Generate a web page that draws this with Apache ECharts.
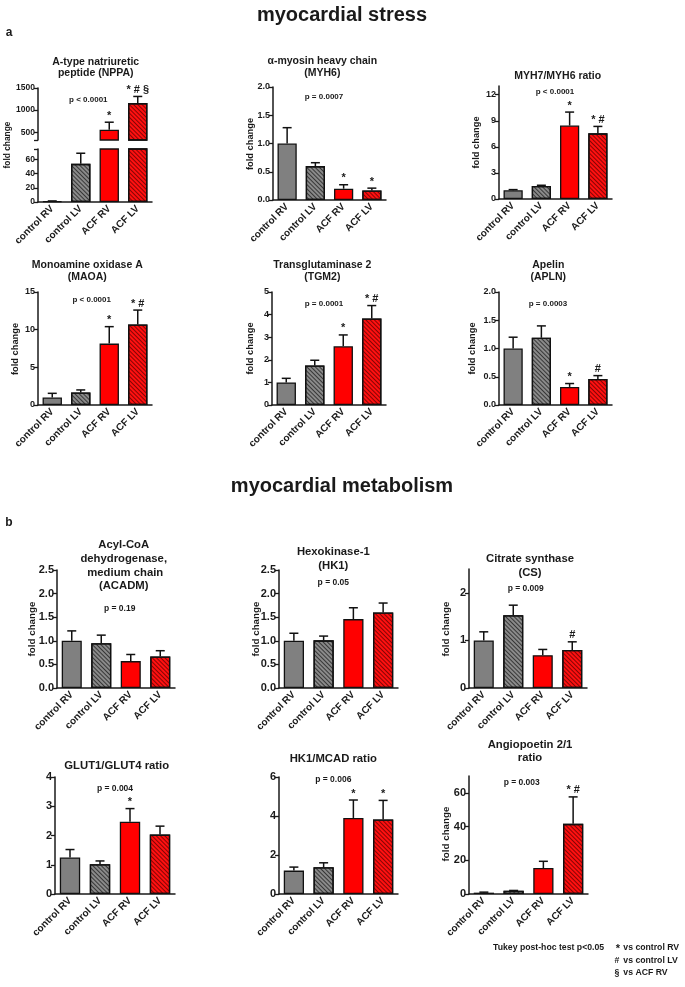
<!DOCTYPE html>
<html><head><meta charset="utf-8">
<script src="https://cdn.jsdelivr.net/npm/echarts@6/dist/echarts.min.js"></script>
<style>html,body{margin:0;padding:0;background:#fff}#c{width:685px;height:987px}</style>
</head><body><div id="c"></div>
<script>
// ---- data ----
const categories = ['control RV', 'control LV', 'ACF RV', 'ACF LV'];
const nppaMean = [1, 54, 559, 1159];        const nppaSem = [0.5, 15, 168, 150];   const nppaMarks = ['', '', '*', '* # §'];
const myh6Mean = [1.0, 0.6, 0.2, 0.17];     const myh6Sem = [0.28, 0.06, 0.07, 0.04]; const myh6Marks = ['', '', '*', '*'];
const myh76Mean = [1.0, 1.5, 8.45, 7.55];   const myh76Sem = [0.08, 0.08, 1.55, 0.8]; const myh76Marks = ['', '', '*', '* #'];
const maoaMean = [1.0, 1.67, 8.15, 10.7];   const maoaSem = [0.55, 0.33, 2.25, 1.9];  const maoaMarks = ['', '', '*', '* #'];
const tgm2Mean = [1.0, 1.75, 2.6, 3.83];    const tgm2Sem = [0.18, 0.23, 0.5, 0.57];  const tgm2Marks = ['', '', '*', '* #'];
const aplnMean = [1.0, 1.19, 0.32, 0.46];   const aplnSem = [0.2, 0.21, 0.06, 0.06];  const aplnMarks = ['', '', '*', '#'];
const acadmMean = [1.0, 0.95, 0.57, 0.67];  const acadmSem = [0.21, 0.17, 0.14, 0.12]; const acadmMarks = ['', '', '', ''];
const hk1Mean = [1.0, 1.01, 1.46, 1.6];     const hk1Sem = [0.16, 0.09, 0.24, 0.2];   const hk1Marks = ['', '', '', ''];
const csMean = [1.0, 1.53, 0.69, 0.8];      const csSem = [0.18, 0.21, 0.12, 0.17];   const csMarks = ['', '', '', '#'];
const glutMean = [1.25, 1.02, 2.47, 2.03];  const glutSem = [0.27, 0.11, 0.45, 0.29];  const glutMarks = ['', '', '*', ''];
const hkmcadMean = [1.2, 1.37, 3.9, 3.82];  const hkmcadSem = [0.18, 0.23, 0.92, 0.98]; const hkmcadMarks = ['', '', '*', '*'];
const angMean = [0.8, 1.9, 15.4, 41.6];     const angSem = [0.3, 0.2, 4.0, 16.0];     const angMarks = ['', '', '', '* #'];
const nppaUpperTicks = [500, 1000, 1500];
const nppaLowerTicks = [0, 20, 40, 60];
const myh76Ticks = [0, 3, 6, 9, 12];
const csTicks = [0, 1, 2];
const angTicks = [0, 20, 40, 60];

// ---- styling / layout ----
const FONT = "'Liberation Sans', Arial, sans-serif";
const TXT = '#1a1a1a';
const grayHatch = {symbol: 'rect', symbolSize: 1, color: 'rgba(20,20,20,0.7)', dashArrayX: [1, 0], dashArrayY: [1, 1.2], rotation: Math.PI / 4};
const redHatch = {symbol: 'rect', symbolSize: 1, color: 'rgba(80,0,0,0.7)', dashArrayX: [1, 0], dashArrayY: [1, 1.2], rotation: Math.PI / 4};
const barStyles = [
  {color: '#808080'},
  {color: '#8a8a8a', decal: grayHatch},
  {color: '#ff0000'},
  {color: '#ff1010', decal: redHatch}
];

const panels = [
  {mean: nppaMean, sem: nppaSem, marks: nppaMarks, rect: [38, 88, 114, 52], min: 325, max: 1500, labels: nppaUpperTicks, ticks: [325, 500, 1000, 1500], hideX: true, fs: 8.5, barKeep: v => v > 325, errKeep: (v, hi) => v > 325},
  {mean: nppaMean, sem: nppaSem, marks: nppaMarks, rect: [38, 149, 114, 53], min: 0, max: 75, labels: nppaLowerTicks, ticks: [0, 20, 40, 60, 75], fs: 8.5, errKeep: (v, hi) => hi < 75},
  {mean: myh6Mean, sem: myh6Sem, marks: myh6Marks, rect: [273, 87, 113, 113], min: 0, max: 2, interval: 0.5, fs: 9, fmt: v => v.toFixed(1)},
  {mean: myh76Mean, sem: myh76Sem, marks: myh76Marks, rect: [499, 86, 113, 113], min: 0, max: 13, labels: myh76Ticks, ticks: myh76Ticks, fs: 9},
  {mean: maoaMean, sem: maoaSem, marks: maoaMarks, rect: [38, 292, 114, 113], min: 0, max: 15, interval: 5, fs: 9},
  {mean: tgm2Mean, sem: tgm2Sem, marks: tgm2Marks, rect: [272, 292, 114, 113], min: 0, max: 5, interval: 1, fs: 9},
  {mean: aplnMean, sem: aplnSem, marks: aplnMarks, rect: [499, 292, 113, 113], min: 0, max: 2, interval: 0.5, fs: 9, fmt: v => v.toFixed(1)},
  {mean: acadmMean, sem: acadmSem, marks: acadmMarks, rect: [57, 570, 118, 118], min: 0, max: 2.5, interval: 0.5, fs: 11, fmt: v => v.toFixed(1)},
  {mean: hk1Mean, sem: hk1Sem, marks: hk1Marks, rect: [279, 570, 119, 118], min: 0, max: 2.5, interval: 0.5, fs: 11, fmt: v => v.toFixed(1)},
  {mean: csMean, sem: csSem, marks: csMarks, rect: [469, 569, 118, 119], min: 0, max: 2.5, labels: csTicks, ticks: csTicks, fs: 11},
  {mean: glutMean, sem: glutSem, marks: glutMarks, rect: [55, 777, 120, 117], min: 0, max: 4, interval: 1, fs: 11},
  {mean: hkmcadMean, sem: hkmcadSem, marks: hkmcadMarks, rect: [279, 777, 119, 117], min: 0, max: 6, interval: 2, fs: 11},
  {mean: angMean, sem: angSem, marks: angMarks, rect: [469, 776, 119, 118], min: 0, max: 70, labels: angTicks, ticks: angTicks, fs: 11}
];

const grids = [], xAxes = [], yAxes = [], series = [];
panels.forEach((p, i) => {
  grids.push({left: p.rect[0], top: p.rect[1], width: p.rect[2], height: p.rect[3], containLabel: false});
  xAxes.push({
    type: 'category', gridIndex: i, data: categories, show: !p.hideX,
    axisLine: {lineStyle: {color: TXT, width: 1.5}},
    axisTick: {alignWithLabel: true, length: 4, lineStyle: {color: TXT, width: 1.3}},
    axisLabel: {rotate: 45, interval: 0, fontSize: 10, fontWeight: 'bold', fontFamily: FONT, color: TXT, margin: 5}
  });
  const ya = {
    type: 'value', gridIndex: i, min: p.min, max: p.max,
    splitLine: {show: false},
    axisLine: {show: true, lineStyle: {color: TXT, width: 1.5}},
    axisTick: {show: true, length: 4, lineStyle: {color: TXT, width: 1.3}},
    axisLabel: {fontSize: p.fs, fontWeight: 'bold', fontFamily: FONT, color: TXT, margin: 3, formatter: p.fmt || (v => String(v))}
  };
  if (p.interval) ya.interval = p.interval;
  if (p.labels) { ya.axisLabel.customValues = p.labels; ya.axisTick.customValues = p.ticks; }
  yAxes.push(ya);
  const barKeep = p.barKeep || (() => true);
  const errKeep = p.errKeep || (() => true);
  series.push({
    type: 'bar', xAxisIndex: i, yAxisIndex: i, barWidth: '68%', clip: true, silent: true,
    data: p.mean.map((v, k) => barKeep(v) ? {value: v, itemStyle: Object.assign({borderColor: '#111', borderWidth: 1.3}, barStyles[k])} : '-')
  });
  const errData = [];
  p.mean.forEach((v, k) => {
    const hi = v + p.sem[k];
    if (errKeep(v, hi)) errData.push([k, v, hi]);
  });
  const marks = p.marks;
  series.push({
    type: 'custom', xAxisIndex: i, yAxisIndex: i, silent: true, z: 5,
    data: errData,
    renderItem: (params, api) => {
      const k = api.value(0);
      const a = api.coord([k, api.value(1)]);
      const b = api.coord([k, api.value(2)]);
      const ch = [
        {type: 'line', shape: {x1: a[0], y1: a[1], x2: b[0], y2: b[1]}, style: {stroke: '#111', lineWidth: 1.5}},
        {type: 'line', shape: {x1: b[0] - 4.5, y1: b[1], x2: b[0] + 4.5, y2: b[1]}, style: {stroke: '#111', lineWidth: 1.5}}
      ];
      const m = marks[k];
      if (m) ch.push({type: 'text', x: b[0], y: b[1] - 1, style: {text: m, align: 'center', verticalAlign: 'bottom', font: 'bold 11px ' + FONT, fill: TXT}});
      return {type: 'group', children: ch};
    }
  });
});

function txt(text, x, y, size, opts) {
  opts = opts || {};
  return {
    type: 'text', x: x, y: y, rotation: opts.rot || 0, silent: true,
    style: {text: text, align: opts.align || 'center', verticalAlign: 'middle', font: 'bold ' + size + 'px ' + FONT, fill: TXT, lineHeight: opts.lh || size * 1.15}
  };
}
const R = Math.PI / 2;
const graphics = [
  txt('myocardial stress', 342, 15, 20),
  txt('myocardial metabolism', 342, 486, 20),
  txt('a', 9, 33, 12),
  txt('b', 9, 523, 12),
  // panel titles
  txt('A-type natriuretic\npeptide (NPPA)', 95.7, 67.5, 10.5, {lh: 11.6}),
  txt('α-myosin heavy chain\n(MYH6)', 322.3, 67, 10.5, {lh: 12.6}),
  txt('MYH7/MYH6 ratio', 557.7, 76, 10.5),
  txt('Monoamine oxidase A\n(MAOA)', 87.3, 271, 10.5, {lh: 12.5}),
  txt('Transglutaminase 2\n(TGM2)', 322.3, 271, 10.5, {lh: 12.5}),
  txt('Apelin\n(APLN)', 548.3, 271, 10.5, {lh: 12.5}),
  txt('Acyl-CoA\ndehydrogenase,\n medium chain\n(ACADM)', 123.7, 565.6, 11.3, {lh: 13.7}),
  txt('Hexokinase-1\n(HK1)', 333.3, 559, 11.3, {lh: 13.4}),
  txt('Citrate synthase\n(CS)', 530, 565.7, 11.3, {lh: 13.4}),
  txt('GLUT1/GLUT4 ratio', 116.7, 765.7, 11.3),
  txt('HK1/MCAD ratio', 333.3, 759, 11.3),
  txt('Angiopoetin 2/1\nratio', 530, 751.4, 11.3, {lh: 12.7}),
  // p values
  txt('p < 0.0001', 88.3, 99.3, 8),
  txt('p = 0.0007', 324, 96.7, 8),
  txt('p < 0.0001', 555, 91.7, 8),
  txt('p < 0.0001', 91.7, 300, 8),
  txt('p = 0.0001', 324, 304, 8),
  txt('p = 0.0003', 548, 304, 8),
  txt('p = 0.19', 119.7, 609, 8.5),
  txt('p = 0.05', 333.3, 582.3, 8.5),
  txt('p = 0.009', 525.7, 589, 8.5),
  txt('p = 0.004', 115, 789, 8.5),
  txt('p = 0.006', 333.3, 780, 8.5),
  txt('p = 0.003', 521.7, 782.7, 8.5),
  // y axis titles
  txt('fold change', 7.5, 145, 8.4, {rot: R}),
  txt('fold change', 250.7, 144, 9.3, {rot: R}),
  txt('fold change', 476.7, 142.5, 9.3, {rot: R}),
  txt('fold change', 15.5, 349, 9.3, {rot: R}),
  txt('fold change', 250.7, 348.5, 9.3, {rot: R}),
  txt('fold change', 472.3, 348.5, 9.3, {rot: R}),
  txt('fold change', 32.7, 629, 9.8, {rot: R}),
  txt('fold change', 256, 629, 9.8, {rot: R}),
  txt('fold change', 446.7, 629, 9.8, {rot: R}),
  txt('fold change', 446.7, 834, 9.8, {rot: R}),
  // footnote
  txt('Tukey post-hoc test p<0.05', 493, 947.3, 8.7, {align: 'left'}),
  txt('*', 618, 948.5, 11),
  txt('#', 617, 960.3, 8.7),
  txt('§', 617, 972.3, 8.7),
  txt('vs control RV', 623.3, 947.3, 8.7, {align: 'left'}),
  txt('vs control LV', 623.3, 960.3, 8.7, {align: 'left'}),
  txt('vs ACF RV', 623.3, 972.3, 8.7, {align: 'left'})
];

const chart = echarts.init(document.getElementById('c'), null, {renderer: 'canvas'});
chart.setOption({
  animation: false,
  backgroundColor: '#fff',
  grid: grids, xAxis: xAxes, yAxis: yAxes, series: series,
  graphic: {elements: graphics}
});
</script></body></html>
